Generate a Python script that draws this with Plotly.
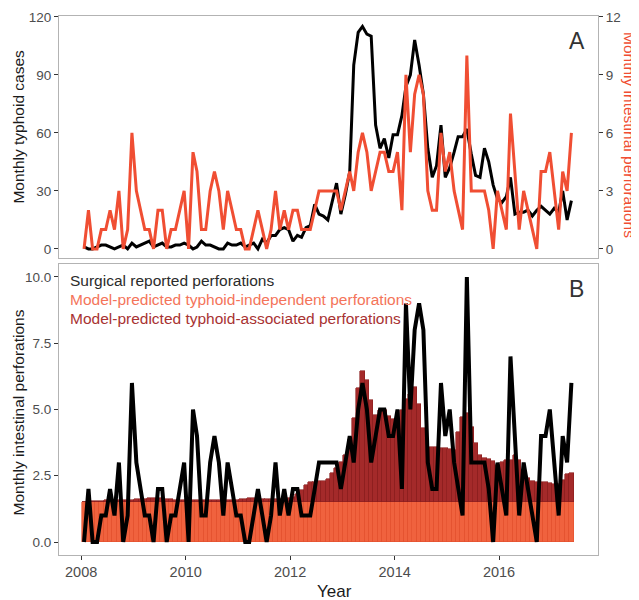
import pandas as pd
import plotly.graph_objects as go

# ---------------- data (monthly, Jan 2008 - May 2017) ----------------
months = pd.date_range("2008-01-01", "2017-05-01", freq="MS") + pd.Timedelta(days=20)

typhoid_cases = [
    1, 0, 0, 1, 2, 2, 1, 0, 1, 2,
    0, 3, 1, 2, 3, 4, 1, 2, 3, 1,
    1, 2, 2, 3, 2, 0, 1, 4, 2, 2,
    1, 0, 0, 3, 2, 2, 3, 1, 2, 3,
    0, 5, 3, 7, 7, 10, 11, 10, 4, 7,
    6, 11, 12, 23, 18, 17, 15, 25, 34, 18,
    28, 40, 95, 112, 115, 111, 110, 64, 52, 57,
    47, 59, 59, 69, 84, 90, 108, 95, 80, 52,
    37, 43, 64, 37, 42, 50, 58, 58, 62, 49,
    38, 37, 52, 45, 33, 26, 24, 27, 37, 18,
    19, 19, 20, 17, 20, 22, 20, 18, 21, 19,
    30, 15, 25,
]

perforations = [
    0, 2, 0, 0, 1, 1, 2, 1, 3, 0,
    1, 6, 3, 2, 1, 1, 0, 2, 2, 0,
    1, 1, 2, 3, 0, 5, 4, 1, 1, 3,
    4, 3, 1, 3, 2, 1, 1, 0, 0, 1,
    2, 1, 0, 1, 3, 1, 2, 1, 2, 2,
    1, 1, 1, 2, 3, 3, 3, 3, 3, 2,
    3, 4, 3, 5, 6, 5, 3, 4, 5, 5,
    4, 4, 5, 2, 9, 5, 8, 9, 8, 3,
    2, 2, 6, 4, 5, 3, 2, 1, 10, 3,
    3, 3, 3, 2, 0, 3, 2, 1, 7, 4,
    1, 3, 2, 1, 0, 4, 4, 5, 3, 1,
    4, 3, 6,
]

# model-predicted typhoid-independent perforations (constant level)
independent = [1.5] * len(perforations)

# model-predicted typhoid-associated perforations (stacked on top)
associated = [
    0.02, 0.03, 0.04, 0.05, 0.06, 0.07, 0.08, 0.08, 0.09, 0.10,
    0.10, 0.10, 0.11, 0.12, 0.14, 0.16, 0.17, 0.17, 0.16, 0.14,
    0.12, 0.10, 0.09, 0.08, 0.08, 0.08, 0.08, 0.08, 0.07, 0.07,
    0.07, 0.07, 0.07, 0.08, 0.09, 0.10, 0.12, 0.14, 0.16, 0.18,
    0.16, 0.13, 0.12, 0.12, 0.12, 0.13, 0.14, 0.16, 0.20, 0.30,
    0.45, 0.65, 0.78, 0.78, 0.80, 0.80, 0.88, 1.10, 1.28, 1.53,
    1.78, 2.40, 3.17, 4.30, 4.95, 4.60, 3.86, 3.30, 3.50, 3.50,
    3.25, 3.15, 3.00, 3.50, 3.90, 4.10, 4.35, 3.70, 2.80, 2.10,
    2.10, 2.10, 2.05, 2.05, 2.00, 1.97, 2.66, 3.23, 3.36, 2.85,
    2.22, 1.78, 1.66, 1.62, 1.56, 1.40, 1.53, 1.60, 1.60, 1.80,
    1.60, 1.13, 0.90, 0.80, 0.78, 0.78, 0.76, 0.72, 0.70, 0.68,
    0.84, 1.05, 1.10,
]

year_ticks = [2008, 2010, 2012, 2014, 2016]
typhoid_ticks = [0, 30, 60, 90, 120]
perf_ticks_a = [0, 3, 6, 9, 12]
perf_ticks_b = [0, 2.5, 5, 7.5, 10]
perf_labels_b = ["0.0", "2.5", "5.0", "7.5", "10.0"]
legend_labels = [
    "Surgical reported perforations",
    "Model-predicted typhoid-independent perforations",
    "Model-predicted typhoid-associated perforations",
]

# ---------------- styling ----------------
RED = "#F04E33"
IND_FILL = "#F0623E"
IND_LINE = "#E2502F"
ASSOC_FILL = "#A42A2A"
ASSOC_LINE = "#8B1E1E"
BORDER = "#b3b3b3"
TICKCOL = "#4d4d4d"
TITLECOL = "#1a1a1a"
FONT = "Liberation Sans, Arial, sans-serif"

fig = go.Figure()

# Panel A
fig.add_trace(go.Scatter(x=months, y=typhoid_cases, mode="lines",
                         line=dict(color="black", width=3),
                         xaxis="x", yaxis="y", showlegend=False))
fig.add_trace(go.Scatter(x=months, y=perforations, mode="lines",
                         line=dict(color=RED, width=3),
                         xaxis="x", yaxis="y2", showlegend=False))

# Panel B
bar_w = 31.2 * 24 * 3600 * 1000
fig.add_trace(go.Bar(x=months, y=independent, width=bar_w,
                     marker=dict(color=IND_FILL, line=dict(color=IND_LINE, width=0.6)),
                     xaxis="x2", yaxis="y3", showlegend=False))
fig.add_trace(go.Bar(x=months, y=associated, width=bar_w,
                     marker=dict(color=ASSOC_FILL, line=dict(color=ASSOC_LINE, width=0.6)),
                     xaxis="x2", yaxis="y3", showlegend=False))
fig.add_trace(go.Scatter(x=months, y=perforations, mode="lines",
                         line=dict(color="black", width=4),
                         xaxis="x2", yaxis="y3", showlegend=False))

xr = ["2007-07-30", "2017-11-23"]
tickvals_dates = [f"{y}-01-01" for y in year_ticks]

axis_common = dict(showgrid=False, zeroline=False, showline=True, mirror=True,
                   linecolor=BORDER, linewidth=1, automargin=False)

# the page body adds an 8px offset, so the figure is 8px smaller than the window
fig.update_layout(
    width=631, height=592,
    margin=dict(l=51, r=41, t=8, b=45, autoexpand=False),
    plot_bgcolor="white", paper_bgcolor="white",
    barmode="stack", bargap=0,
    font=dict(family=FONT, size=13.5, color=TICKCOL),
    xaxis=dict(domain=[0, 1], anchor="y", range=xr, type="date",
               showticklabels=False, ticks="", **axis_common),
    yaxis=dict(domain=[0.551, 1], anchor="x", range=[-4.7, 120.4],
               tickvals=typhoid_ticks, ticks="outside", ticklen=4,
               tickcolor="#333", tickfont=dict(size=13.5, color=TICKCOL),
               **axis_common),
    yaxis2=dict(overlaying="y", side="right", anchor="x", range=[-0.47, 12.04],
                tickvals=perf_ticks_a, ticks="outside", ticklen=4, tickcolor="#333",
                tickfont=dict(size=13.5, color=TICKCOL),
                showgrid=False, zeroline=False, showline=False, automargin=False),
    xaxis2=dict(domain=[0, 1], anchor="y3", range=xr, type="date",
                tickvals=tickvals_dates, ticktext=[str(y) for y in year_ticks],
                ticks="outside", ticklen=4, tickcolor="#333",
                tickfont=dict(size=14.5, color=TICKCOL),
                **axis_common),
    yaxis3=dict(domain=[0, 0.540], anchor="x2", range=[-0.49, 10.49],
                tickvals=perf_ticks_b, ticktext=perf_labels_b,
                ticks="outside", ticklen=4, tickcolor="#333",
                tickfont=dict(size=13.5, color=TICKCOL),
                **axis_common),
)

# axis titles
titles = [
    ("Monthly typhoid cases", -0.0751, 0.794, -90, TITLECOL, 15.5),
    ("Monthly intestinal perforations", 1.0594, 0.7792, 90, RED, 15.5),
    ("Monthly intestinal perforations", -0.0751, 0.2635, -90, TITLECOL, 15.5),
    ("Year", 0.512, -0.0686, 0, TITLECOL, 17),
]
for txt, xx, yy, ang, col, sz in titles:
    fig.add_annotation(text=txt, xref="paper", yref="paper", x=xx, y=yy,
                       xanchor="center", yanchor="middle", textangle=ang,
                       showarrow=False, font=dict(size=sz, color=col, family=FONT))

# legend as coloured text in panel B
legend_colors = ["#2b2b2b", "#F4745A", "#A83232"]
legend_y = [0.509, 0.4744, 0.4391]
for txt, col, yy in zip(legend_labels, legend_colors, legend_y):
    fig.add_annotation(text=txt, xref="paper", yref="paper", x=0.0161, y=yy,
                       xanchor="left", yanchor="middle", showarrow=False,
                       font=dict(size=15.5, color=col, family=FONT))

# panel letters
for letter, yy in [("A", 0.9545), ("B", 0.4939)]:
    fig.add_annotation(text=letter, xref="paper", yref="paper", x=0.9605, y=yy,
                       xanchor="center", yanchor="middle", showarrow=False,
                       font=dict(size=23, color="#333333", family=FONT))

fig.write_html("out.html")
